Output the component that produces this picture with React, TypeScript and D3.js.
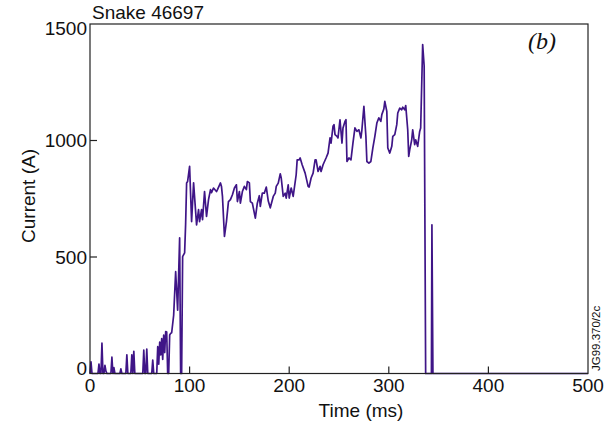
import React from 'react';
import * as d3 from 'd3';

const times = [
  0, 1, 2, 8, 9, 10, 11, 12, 13, 14, 15, 16, 17, 21, 22, 23, 24, 25, 30, 31, 32, 36, 37, 38, 41, 42, 43, 44, 45,
  53, 54, 55, 56, 57, 58, 62, 63, 64, 67, 68, 69, 70, 71, 72, 73, 74, 75, 76, 77, 78, 79, 80, 81, 82, 84, 86, 88,
  90, 91, 92, 93, 95, 96, 97, 98, 100, 102, 104, 107, 109, 110, 112, 113, 115, 117, 119, 121, 122, 124, 127, 128,
  131, 132, 133, 135, 137, 139, 141, 143, 145, 147, 148, 150, 151, 153, 155, 157, 158, 160, 161, 163, 166, 168,
  170, 171, 173, 175, 177, 179, 181, 184, 186, 187, 189, 191, 192, 194, 196, 197, 199, 200, 202, 204, 207, 208,
  210, 211, 213, 216, 219, 220, 222, 224, 226, 227, 229, 231, 232, 234, 237, 239, 241, 242, 244, 245, 246, 248,
  249, 251, 253, 254, 256, 257, 258, 260, 262, 264, 266, 268, 270, 272, 273, 275, 277, 278, 280, 282, 284, 286,
  288, 290, 292, 293, 295, 296, 298, 299, 301, 303, 304, 306, 308, 309, 311, 313, 314, 316, 317, 319, 320, 321,
  323, 324, 326, 327, 329, 331, 332, 334, 335.5, 337, 342.8, 343.3, 344.3, 500,
];

const currents = [
  0, 50, 0, 0, 40, 0, 0, 130, 0, 0, 35, 10, 0, 0, 70, 0, 25, 0, 0, 20, 0, 0, 80, 0, 0, 80, 0, 95, 0,
  0, 100, 0, 0, 105, 0, 0, 58, 0, 0, 115, 40, 135, 80, 150, 60, 165, 90, 180, 178, 0, 0, 165, 172, 175, 250, 437, 272,
  582, 0, 0, 502, 518, 640, 818, 824, 889, 652, 818, 638, 703, 652, 703, 660, 781, 674, 746, 789, 776, 796, 781, 789,
  818, 803, 760, 588, 652, 738, 746, 767, 796, 810, 738, 781, 731, 781, 803, 789, 824, 818, 738, 731, 667, 731,
  763, 717, 774, 774, 800, 740, 711, 760, 774, 803, 817, 857, 839, 760, 774, 753, 810, 753, 796, 760, 853, 917,
  917, 925, 896, 860, 803, 800, 839, 860, 917, 917, 867, 889, 867, 896, 925, 946, 1011, 989, 1061, 1068, 1025, 1018,
  1011, 1089, 989, 1054, 1082, 1089, 910, 925, 917, 989, 1054, 1039, 1046, 1011, 1046, 1147, 1018, 910, 903, 910, 968, 1018,
  1075, 1097, 1082, 1111, 1135, 1168, 1125, 968, 946, 975, 1018, 1025, 1068, 1118, 1139, 1132, 1143, 1132, 1150, 1046, 932, 960,
  1003, 1046, 982, 1003, 975, 1039, 1054, 1412, 1320, 0, 0, 638, 0, 0,
];

const xTicks = [0, 100, 200, 300, 400, 500];
const yTicks = [0, 500, 1000, 1500];

const title = 'Snake 46697';
const panelLabel = '(b)';
const xLabel = 'Time (ms)';
const yLabel = 'Current (A)';
const figId = 'JG99.370/2c';

export default function App() {
  const W = 615;
  const H = 426;
  const left = 90, right = 588, top = 24, bottom = 373.5;
  const x = d3.scaleLinear().domain([0, 500]).range([left, right]);
  const y = d3.scaleLinear().domain([0, 1500]).range([bottom, top]);
  const pts: [number, number][] = times.map((t, i) => [t, currents[i]]);
  const line = d3.line<[number, number]>().x(d => x(d[0])).y(d => y(d[1]));
  const font = "'Liberation Sans', Arial, sans-serif";
  const fs = 19;
  const yLabelBaseline = (v: number) => {
    if (v === 1500) return y(v) + 11;
    if (v === 0) return y(v) + 1.5;
    return y(v) + 6.8;
  };
  return (
    <svg width={W} height={H} style={{ position: 'absolute', left: 0, top: 0, background: '#fff' }}>
      <rect x={0} y={0} width={W} height={H} fill="#fff" />
      <path d={line(pts) || ''} fill="none" stroke="#3f1587" strokeWidth={1.7} strokeLinejoin="round" />
      <rect x={left} y={top} width={right - left} height={bottom - top} fill="none" stroke="#222" strokeWidth={1.2} />
      {xTicks.filter(t => t > 0 && t < 500).map(t => (
        <line key={'xt' + t} x1={x(t)} x2={x(t)} y1={bottom} y2={bottom - 7} stroke="#222" strokeWidth={1.2} />
      ))}
      {yTicks.filter(t => t > 0 && t < 1500).map(t => (
        <line key={'yt' + t} x1={left} x2={left + 7} y1={y(t)} y2={y(t)} stroke="#222" strokeWidth={1.2} />
      ))}
      {xTicks.map(t => (
        <text key={'xl' + t} x={x(t)} y={392} fontFamily={font} fontSize={fs} textAnchor="middle" fill="#111">{t}</text>
      ))}
      {yTicks.map(t => (
        <text key={'yl' + t} x={87} y={yLabelBaseline(t)} fontFamily={font} fontSize={fs} textAnchor="end" fill="#111">{t}</text>
      ))}
      <text x={92} y={19} fontFamily={font} fontSize={fs} fill="#111">{title}</text>
      <text x={361} y={417} fontFamily={font} fontSize={fs} textAnchor="middle" fill="#111">{xLabel}</text>
      <text transform={`translate(35,196) rotate(-90)`} fontFamily={font} fontSize={fs} textAnchor="middle" fill="#111">{yLabel}</text>
      <text x={542} y={49} fontFamily="'Liberation Serif', 'Times New Roman', serif" fontStyle="italic" fontSize={24} textAnchor="middle" fill="#111">{panelLabel}</text>
      <text transform={`translate(600,371) rotate(-90)`} fontFamily={font} fontSize={11.5} fill="#111">{figId}</text>
    </svg>
  );
}
